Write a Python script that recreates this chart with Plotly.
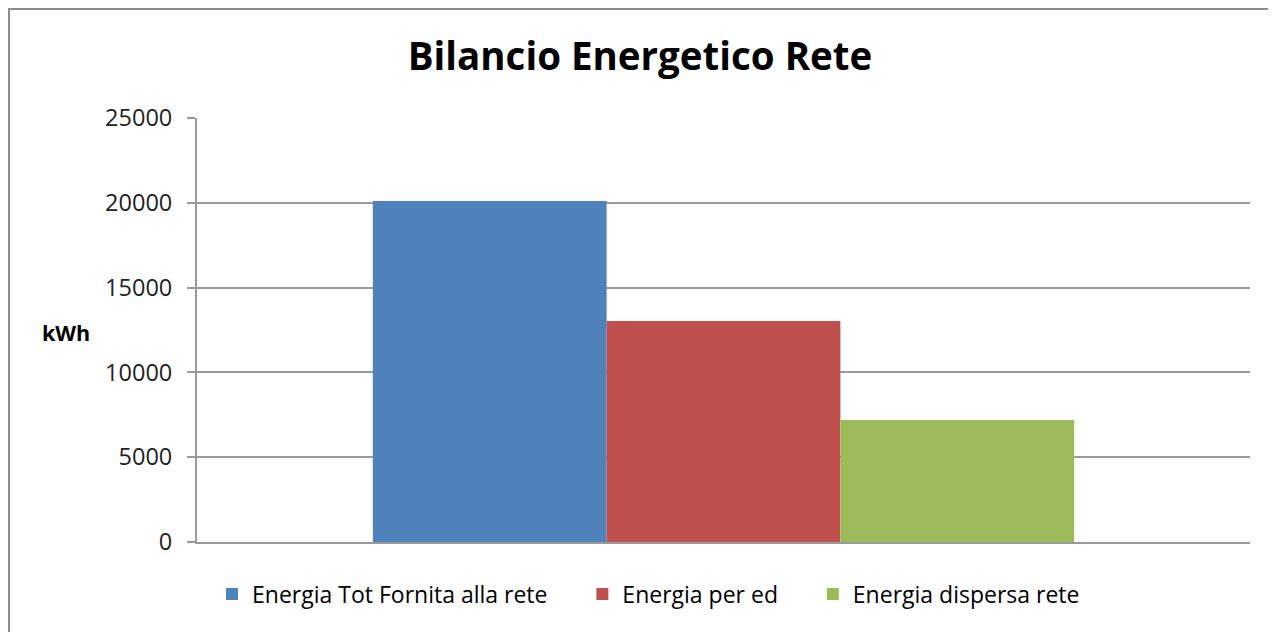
import plotly.graph_objects as go

categories = ["Rete"]
series_names = ["Energia Tot Fornita alla rete", "Energia per ed", "Energia dispersa rete"]
series_values = [[20100], [13030], [7190]]
series_colors = ["#4F81BD", "#C0504D", "#9BBB59"]
y_ticks = [0, 5000, 10000, 15000, 20000, 25000]

FONT = "Open Sans"
PAD = "\u00a0" * 5  # extra spacing between legend entries
fig = go.Figure()
for name, vals, col in zip(series_names, series_values, series_colors):
    fig.add_trace(go.Bar(x=categories, y=vals, name=name + PAD, marker=dict(color=col, line=dict(width=0))))

# page has an 8px body margin; figure drawn inside it
OFF = 8
W, H = 1276 - OFF, 632 - OFF
L, T = 197 - OFF, 118 - OFF
R, B = W - (1250 - OFF), H - (542 - OFF)
pw, ph = W - L - R, H - T - B

def px_x(xw):  # window x -> paper x
    return (xw - OFF - L) / pw

def px_y(yw):  # window y -> paper y
    return (H - B - (yw - OFF)) / ph

fig.update_layout(
    width=W, height=H,
    margin=dict(l=L, r=R, t=T, b=B),
    paper_bgcolor="white", plot_bgcolor="white",
    barmode="group", bargap=0.334, bargroupgap=0,
    font=dict(family=FONT, color="#000000"),
    title=dict(text="<b>Bilancio Energetico Rete</b>", x=(640 - OFF) / W, xref="container", xanchor="center",
               y=1 - (57 - OFF) / H, yref="container", yanchor="middle",
               font=dict(size=38.5, family=FONT, color="#000000")),
    showlegend=True,
    legend=dict(orientation="h", x=px_x(232 - 20), xanchor="left", y=px_y(594), yanchor="middle",
                font=dict(size=23, family=FONT, color="#000000"), itemwidth=30, traceorder="normal"),
    xaxis=dict(showticklabels=False, showgrid=False, showline=True, linecolor="#9A9A9A", linewidth=2,
               ticks="", zeroline=False),
    yaxis=dict(range=[0, 25000], tickvals=y_ticks, ticktext=[str(v) for v in y_ticks],
               showgrid=True, gridcolor="#9A9A9A", gridwidth=2, zeroline=False,
               showline=True, linecolor="#9A9A9A", linewidth=2,
               ticks="outside", ticklen=8, tickcolor="#9A9A9A", tickwidth=2,
               tickfont=dict(size=23.5, family=FONT, color="#222222"), ticklabelstandoff=10),
)

fig.add_annotation(text="<b>kWh</b>", xref="paper", yref="paper", x=px_x(66), y=px_y(332),
                   showarrow=False, font=dict(size=21.5, family=FONT, color="#000000"),
                   xanchor="center", yanchor="middle")

# outer chart border (left and top edges visible)
fig.add_shape(type="rect", xref="paper", yref="paper",
              x0=px_x(OFF + 1), x1=px_x(1276 + 20), y0=px_y(632 + 20), y1=px_y(OFF + 1),
              line=dict(color="#8C8C8C", width=2), layer="below")

fig.write_html("out.html")
